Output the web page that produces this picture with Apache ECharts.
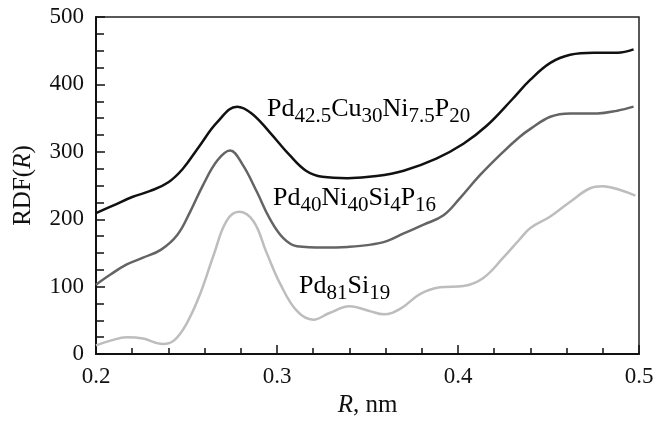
<!DOCTYPE html>
<html>
<head>
<meta charset="utf-8">
<script src="https://cdn.jsdelivr.net/npm/echarts@6/dist/echarts.min.js"></script>
<style>
html,body{margin:0;padding:0;background:#fff;}
#chart{width:672px;height:423px;}
</style>
</head>
<body>
<div id="chart"></div>
<script>
// R (nm) and RDF values for each alloy
var rPdCuNiP   = [0.200,0.210,0.220,0.230,0.240,0.248,0.257,0.267,0.278,0.286,0.296,0.307,0.316,0.325,0.339,0.355,0.370,0.388,0.403,0.416,0.430,0.440,0.451,0.462,0.475,0.488,0.497];
var rdfPdCuNiP = [209,221,233,242,255,275,308,344,367,357,329,295,272,263,261,264,272,290,312,339,378,407,432,444,447,447,452];

var rPdNiSiP   = [0.200,0.208,0.217,0.226,0.236,0.245,0.252,0.259,0.267,0.274,0.281,0.289,0.296,0.3035,0.311,0.326,0.339,0.351,0.361,0.370,0.381,0.392,0.401,0.412,0.425,0.434,0.440,0.451,0.462,0.477,0.488,0.497];
var rdfPdNiSiP = [103,118,133,143,155,177,211,250,287,302,281,240,201,172,160,158,159,162,168,179,192,206,231,265,300,322,334,352,357,357,361,367];

var rPdSi   = [0.200,0.208,0.217,0.226,0.237,0.243,0.250,0.2575,0.265,0.272,0.279,0.287,0.294,0.302,0.311,0.320,0.329,0.340,0.351,0.359,0.368,0.379,0.390,0.403,0.414,0.425,0.434,0.440,0.451,0.462,0.473,0.480,0.490,0.498];
var rdfPdSi = [13,20,25,23,15,20,45,89,147,197,211,197,152,103,64,51,61,71,64,59,67,89,99,101,113,143,170,187,204,226,246,249,243,235];

var xTicks = [0.2,0.3,0.4,0.5];
var yTicks = [0,100,200,300,400,500];

function pairs(xs, ys){ return xs.map(function(x,i){ return [x, ys[i]]; }); }

var FONT = 'Liberation Serif';
var chart = echarts.init(document.getElementById('chart'));

var richMain = {
  m: {fontFamily: FONT, fontSize: 26, color: '#111', lineHeight: 36},
  s: {fontFamily: FONT, fontSize: 21, color: '#111', lineHeight: 14, verticalAlign: 'bottom'}
};

function formulaText(parts){
  return parts.map(function(p){ return '{' + (p[1] ? 's' : 'm') + '|' + p[0] + '}'; }).join('');
}

var labelA = formulaText([['Pd',0],['42.5',1],['Cu',0],['30',1],['Ni',0],['7.5',1],['P',0],['20',1]]);
var labelB = formulaText([['Pd',0],['40',1],['Ni',0],['40',1],['Si',0],['4',1],['P',0],['16',1]]);
var labelC = formulaText([['Pd',0],['81',1],['Si',0],['19',1]]);

var nameRich = {i: {fontFamily: FONT, fontSize: 25, fontStyle: 'italic', color: '#111'}, n: {fontFamily: FONT, fontSize: 25, color: '#111'}};

chart.setOption({
  animation: false,
  backgroundColor: '#fff',
  grid: {left: 96, right: 33, top: 17, bottom: 66, show: true, borderColor: '#222', borderWidth: 1.5},
  xAxis: {
    type: 'value', min: 0.2, max: 0.5, interval: 0.1,
    name: '{i|R}{n|, nm}', nameLocation: 'middle', nameGap: 36,
    nameTextStyle: {rich: nameRich},
    axisLine: {show: true, lineStyle: {color: '#111', width: 2}},
    axisTick: {show: true, inside: true, length: 9, lineStyle: {color: '#111', width: 1.5}},
    minorTick: {show: true, splitNumber: 5, length: 6, lineStyle: {color: '#111', width: 1.5}},
    axisLabel: {fontFamily: FONT, fontSize: 23, color: '#111', margin: 11,
      formatter: function(v){ var t = xTicks.find(function(k){return Math.abs(k-v)<1e-9;}); return t===undefined? '' : t.toFixed(1); }},
    splitLine: {show: false}
  },
  yAxis: {
    type: 'value', min: 0, max: 500, interval: 100,
    name: '{n|RDF(}{i|R}{n|)}', nameLocation: 'middle', nameGap: 60, nameRotate: 90,
    nameTextStyle: {rich: nameRich},
    axisLine: {show: true, lineStyle: {color: '#111', width: 2}},
    axisTick: {show: true, inside: true, length: 9, lineStyle: {color: '#111', width: 1.5}},
    minorTick: {show: true, splitNumber: 4, length: 8, lineStyle: {color: '#111', width: 1.5}},
    axisLabel: {fontFamily: FONT, fontSize: 23, color: '#111', margin: 12,
      formatter: function(v){ return yTicks.indexOf(v) >= 0 ? String(v) : ''; }},
    splitLine: {show: false}
  },
  series: [
    {type: 'line', data: pairs(rPdCuNiP, rdfPdCuNiP), smooth: 0.4, showSymbol: false, lineStyle: {color: '#111', width: 2.5}},
    {type: 'line', data: pairs(rPdNiSiP, rdfPdNiSiP), smooth: 0.4, showSymbol: false, lineStyle: {color: '#646464', width: 2.5}},
    {type: 'line', data: pairs(rPdSi, rdfPdSi), smooth: 0.4, showSymbol: false, lineStyle: {color: '#bdbdbd', width: 2.5}}
  ],
  graphic: [
    {type: 'text', x: 267, y: 91, style: {text: labelA, rich: richMain}},
    {type: 'text', x: 273, y: 180, style: {text: labelB, rich: richMain}},
    {type: 'text', x: 299, y: 268, style: {text: labelC, rich: richMain}}
  ]
});
</script>
</body>
</html>
